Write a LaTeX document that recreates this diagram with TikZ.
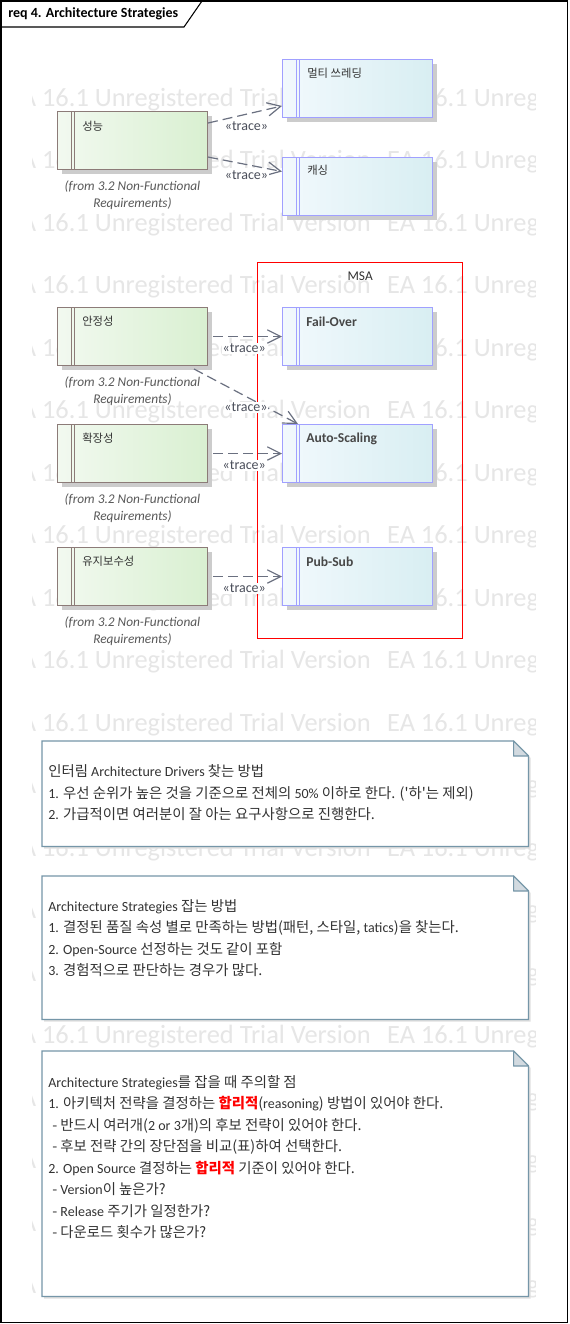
\documentclass[tikz,border=0pt]{standalone}
\usepackage{fontspec}
\setmainfont{Carlito}
\newfontfamily\kr{Noto Sans CJK KR}
\usetikzlibrary{arrows.meta,shadows,calc}
\definecolor{reqborder}{HTML}{8C7B78}
\definecolor{reqleft}{HTML}{F2F9F0}
\definecolor{reqright}{HTML}{D9F0D1}
\definecolor{stborder}{HTML}{A0A0FF}
\definecolor{stleft}{HTML}{F2F9FD}
\definecolor{stright}{HTML}{D8EEF2}
\definecolor{tracecol}{HTML}{6A7080}
\definecolor{tracetxt}{HTML}{4A4E5A}
\definecolor{notebd}{HTML}{7596A8}
\definecolor{notefold}{HTML}{D2DAE0}
\definecolor{wmcol}{HTML}{E6E6E6}
\definecolor{txtc}{HTML}{333333}
\definecolor{fromtxt}{HTML}{595959}
\definecolor{msared}{HTML}{FF0000}
\newcommand\LT[1]{{\rmfamily\fontsize{10.5}{16.1}\selectfont #1}}
\tikzset{
  box/.style={draw, line width=0.75pt, minimum width=112.5pt, minimum height=43.5pt,
    inner sep=0pt, anchor=north west,
    drop shadow={shadow xshift=3pt, shadow yshift=-3pt, fill=black!20, opacity=1}},
  req/.style={box, draw=reqborder, left color=reqleft, right color=reqright,
    path picture={\draw[reqborder, line width=0.75pt]
      ([xshift=10.5pt]path picture bounding box.north west) -- ([xshift=10.5pt]path picture bounding box.south west)
      ([xshift=12.75pt]path picture bounding box.north west) -- ([xshift=12.75pt]path picture bounding box.south west);}},
  strat/.style={box, draw=stborder, left color=stleft, right color=stright,
    path picture={\draw[stborder, line width=0.75pt]
      ([xshift=10.5pt]path picture bounding box.north west) -- ([xshift=10.5pt]path picture bounding box.south west)
      ([xshift=12.75pt]path picture bounding box.north west) -- ([xshift=12.75pt]path picture bounding box.south west);}},
  krtext/.style={font=\kr\fontsize{8.5}{10}\selectfont, text=txtc, anchor=west, inner sep=0pt},
  sttext/.style={font=\bfseries\fontsize{10.2}{12}\selectfont, text=black!72, anchor=west, inner sep=0pt},
  fromlbl/.style={font=\itshape\fontsize{10}{12.75}\selectfont, text=fromtxt, align=center, anchor=north, inner sep=0pt},
  trace/.style={draw=tracecol, line width=0.9pt, dash pattern=on 7.5pt off 3.75pt,
    -{Straight Barb[length=10pt, width=10pt, line width=0.9pt]}},
  tl/.style={font=\fontsize{10.5}{12}\selectfont, text=tracetxt, fill=white, inner sep=0.5pt},
  wm/.style={font=\fontsize{19.8}{22}\selectfont, text=wmcol, inner sep=0pt, anchor=base west},
  notebox/.style={minimum width=364.5pt, inner sep=0pt, anchor=north west},
  notetext/.style={font=\kr\fontsize{10.8}{16.1}\selectfont, text=txtc, align=left, anchor=north west, inner sep=0pt},
}
\begin{document}
\begin{tikzpicture}[x=0.75pt, y=-0.75pt]
\fill[white] (0,0) rectangle (569,1324);
\useasboundingbox (0,0) rectangle (569,1324);
% watermark
\begin{scope}
  \clip (32,60) rectangle (535,1310);
  \foreach \k in {0,...,19} {
    \node[wm] (wm\k) at (8, 106+62.5*\k) {EA 16.1 Unregistered Trial Version\hspace{0.4em} EA 16.1 Unregistered};
  }
\end{scope}
% frame
\draw[line width=1pt] (1,1) rectangle (567.5,1322.5);
\draw[line width=0.8pt] (1,27) -- (184,27) -- (202,1);
\node[font=\bfseries\fontsize{10.5}{12}\selectfont, anchor=west, inner sep=0pt] (title) at (8,14) {req 4. Architecture Strategies};
% MSA boundary
\node[draw=msared, line width=1pt, minimum width=153.75pt, minimum height=282pt, anchor=north west, inner sep=0pt] (msa) at (257,262) {};
\node[font=\fontsize{10}{12}\selectfont, text=black!80, anchor=north, inner sep=0pt] (msal) at ([yshift=-7pt]msa.north) {MSA};
% requirement boxes
\node[req] (s1) at (57,111) {};
\node[req] (s2) at (57,307) {};
\node[req] (s3) at (57,424) {};
\node[req] (s4) at (57,547) {};
% strategy boxes
\node[strat] (mt) at (282,59) {};
\node[strat] (ca) at (282,157) {};
\node[strat] (fo) at (282,307) {};
\node[strat] (as) at (282,424) {};
\node[strat] (ps) at (282,547) {};
% texts
\node[krtext] (s1t) at ([shift={(25,15)}]s1.north west) {성능};
\node[krtext] (s2t) at ([shift={(25,14)}]s2.north west) {안정성};
\node[krtext] (s3t) at ([shift={(25,14)}]s3.north west) {확장성};
\node[krtext] (s4t) at ([shift={(25,14)}]s4.north west) {유지보수성};
\node[krtext] (mtt) at ([shift={(25,14)}]mt.north west) {멀티 쓰레딩};
\node[krtext] (cat) at ([shift={(25,13)}]ca.north west) {캐싱};
\node[sttext] (fot) at ([shift={(24,15)}]fo.north west) {Fail-Over};
\node[sttext] (ast) at ([shift={(24,15)}]as.north west) {Auto-Scaling};
\node[sttext] (pst) at ([shift={(24,15)}]ps.north west) {Pub-Sub};
\node[fromlbl] (s1f) at ([yshift=-8pt]s1.south) {(from 3.2 Non-Functional\\Requirements)};
\node[fromlbl] (s2f) at ([yshift=-8pt]s2.south) {(from 3.2 Non-Functional\\Requirements)};
\node[fromlbl] (s3f) at ([yshift=-8pt]s3.south) {(from 3.2 Non-Functional\\Requirements)};
\node[fromlbl] (s4f) at ([yshift=-8pt]s4.south) {(from 3.2 Non-Functional\\Requirements)};
% trace connectors
\draw[trace] ([yshift=13.1pt]s1.east) -- node[tl, pos=0.52, yshift=-8.6pt] (l1) {«trace»} ([yshift=-13.1pt]mt.west);
\draw[trace] ([yshift=-12.4pt]s1.east) -- node[tl, pos=0.52, yshift=-8.2pt] (l2) {«trace»} ([yshift=11.25pt]ca.west);
\draw[trace, shorten <=3.75pt] (s2.east) -- node[tl, pos=0.49, yshift=-9pt] (l3) {«trace»} (fo.west);
\draw[trace] ([shift={(-14,3)}]s2.south east) -- node[tl, pos=0.5, yshift=-8.25pt] (l4) {«trace»} ([xshift=12pt]as.north west);
\draw[trace, shorten <=3.75pt] (s3.east) -- node[tl, pos=0.49, yshift=-9pt] (l5) {«trace»} (as.west);
\draw[trace, shorten <=3.75pt] (s4.east) -- node[tl, pos=0.49, yshift=-9pt] (l6) {«trace»} (ps.west);
% notes
\node[notebox, minimum height=78.75pt] (n1) at (42,741) {};
\node[notebox, minimum height=107.25pt] (n2) at (42,876) {};
\node[notebox, minimum height=183.75pt] (n3) at (42,1051) {};
\foreach \n in {n1,n2,n3} {
  \fill[black!12] ([shift={(2,2)}]\n.north west) -- ([shift={(-13,2)}]\n.north east) -- ([shift={(2,17)}]\n.north east) -- ([shift={(2,2)}]\n.south east) -- ([shift={(2,2)}]\n.south west) -- cycle;
  \draw[notebd, fill=white, line width=1pt] (\n.north west) -- ([xshift=-11.25pt]\n.north east) -- ([yshift=-11.25pt]\n.north east) -- (\n.south east) -- (\n.south west) -- cycle;
  \draw[notebd, fill=notefold, line width=0.8pt, line join=round] ([xshift=-11.25pt]\n.north east) -- ([xshift=-11.25pt, yshift=-11.25pt]\n.north east) -- ([yshift=-11.25pt]\n.north east) -- cycle;
}
\node[notetext] (n1t) at ([shift={(6,23.5)}]n1.north west) {인터림 \LT{Architecture Drivers} 찾는 방법\\
\LT{1.} 우선 순위가 높은 것을 기준으로 전체의 \LT{50\%} 이하로 한다. ('하'는 제외)\\
\LT{2.} 가급적이면 여러분이 잘 아는 요구사항으로 진행한다.};
\node[notetext] (n2t) at ([shift={(6,23)}]n2.north west) {\LT{Architecture Strategies} 잡는 방법\\
\LT{1.} 결정된 품질 속성 별로 만족하는 방법(패턴, 스타일, \LT{tatics})을 찾는다.\\
\LT{2. Open-Source} 선정하는 것도 같이 포함\\
\LT{3.} 경험적으로 판단하는 경우가 많다.};
\node[notetext] (n3t) at ([shift={(6,24)}]n3.north west) {\LT{Architecture Strategies}를 잡을 때 주의할 점\\
\LT{1.} 아키텍처 전략을 결정하는 {\color{red}\bfseries 합리적}(\LT{reasoning}) 방법이 있어야 한다.\\
\hspace*{3pt}- 반드시 여러개(\LT{2 or 3}개)의 후보 전략이 있어야 한다.\\
\hspace*{3pt}- 후보 전략 간의 장단점을 비교(표)하여 선택한다.\\
\LT{2. Open Source} 결정하는 {\color{red}\bfseries 합리적} 기준이 있어야 한다.\\
\hspace*{3pt}- \LT{Version}이 높은가?\\
\hspace*{3pt}- \LT{Release} 주기가 일정한가?\\
\hspace*{3pt}- 다운로드 횟수가 많은가?};
\end{tikzpicture}
\end{document}
